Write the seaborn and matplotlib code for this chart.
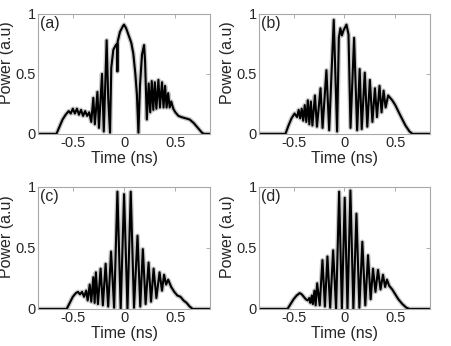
import numpy as np
import pandas as pd
import matplotlib
matplotlib.use("Agg")
import matplotlib.pyplot as plt
import seaborn as sns

# values (time in ns, power in a.u.)
t_a = [-0.84, -0.66, -0.63, -0.60, -0.57, -0.54, -0.52, -0.50, -0.48, -0.46, -0.44, -0.42,
       -0.40, -0.38, -0.36, -0.34, -0.32, -0.30, -0.285, -0.26, -0.245, -0.215, -0.198, -0.17,
       -0.155, -0.137, -0.125, -0.105, -0.08, -0.068, -0.065, -0.062, -0.04, -0.01, 0.0, 0.02,
       0.045, 0.07, 0.09, 0.11, 0.125, 0.14, 0.155, 0.175, 0.195, 0.205, 0.222, 0.24, 0.255,
       0.27, 0.285, 0.30, 0.315, 0.335, 0.35, 0.37, 0.385, 0.40, 0.415, 0.43, 0.445, 0.46,
       0.48, 0.50, 0.53, 0.56, 0.60, 0.64, 0.68, 0.72, 0.76, 0.78, 0.84]
p_a = [0, 0, 0.06, 0.12, 0.16, 0.19, 0.17, 0.21, 0.17, 0.21, 0.16, 0.20,
       0.15, 0.19, 0.15, 0.18, 0.10, 0.30, 0.08, 0.35, 0.05, 0.50, 0.02, 0.78,
       0.30, 0.01, 0.55, 0.70, 0.74, 0.75, 0.52, 0.77, 0.85, 0.90, 0.91, 0.88,
       0.82, 0.76, 0.67, 0.50, 0.33, 0.01, 0.40, 0.66, 0.74, 0.60, 0.12, 0.42, 0.18,
       0.44, 0.20, 0.43, 0.21, 0.45, 0.22, 0.43, 0.22, 0.40, 0.22, 0.34, 0.22, 0.27,
       0.21, 0.18, 0.15, 0.14, 0.13, 0.12, 0.09, 0.05, 0.01, 0, 0]

t_b = [-0.84, -0.58, -0.55, -0.52, -0.49, -0.465, -0.45, -0.435, -0.42, -0.405, -0.39, -0.375,
       -0.36, -0.345, -0.33, -0.315, -0.29, -0.27, -0.235, -0.215, -0.177, -0.15, -0.105, -0.072,
       -0.055, -0.04, -0.025, -0.01, 0.02, 0.04, 0.06, 0.095, 0.125, 0.15, 0.17, 0.20, 0.225,
       0.25, 0.275, 0.30, 0.32, 0.345, 0.365, 0.385, 0.405, 0.43, 0.47, 0.50, 0.54, 0.57,
       0.60, 0.64, 0.67, 0.84]
p_b = [0, 0, 0.07, 0.13, 0.17, 0.14, 0.20, 0.13, 0.21, 0.11, 0.24, 0.10,
       0.28, 0.08, 0.27, 0.07, 0.32, 0.06, 0.38, 0.05, 0.53, 0.03, 0.95, 0.02,
       0.80, 0.88, 0.82, 0.86, 0.91, 0.83, 0.05, 0.80, 0.03, 0.54, 0.04, 0.51, 0.06,
       0.45, 0.10, 0.38, 0.14, 0.40, 0.18, 0.36, 0.22, 0.32, 0.28, 0.24, 0.17, 0.12,
       0.07, 0.02, 0, 0]

t_c = [-0.84, -0.56, -0.53, -0.50, -0.47, -0.45, -0.43, -0.41, -0.39, -0.37, -0.355, -0.335,
       -0.32, -0.30, -0.287, -0.275, -0.255, -0.229, -0.207, -0.18, -0.155, -0.127, -0.097, -0.065,
       -0.033, 0.0, 0.033, 0.065, 0.097, 0.131, 0.158, 0.183, 0.21, 0.239, 0.263, 0.288, 0.315,
       0.346, 0.37, 0.39, 0.41, 0.43, 0.46, 0.49, 0.52, 0.55, 0.58, 0.61, 0.64, 0.67, 0.84]
p_c = [0, 0, 0.05, 0.10, 0.13, 0.14, 0.12, 0.14, 0.10, 0.15, 0.07, 0.20,
       0.06, 0.26, 0.05, 0.30, 0.04, 0.33, 0.03, 0.37, 0.02, 0.47, 0.01, 0.96,
       0.0, 0.94, 0.0, 0.96, 0.01, 0.60, 0.02, 0.49, 0.04, 0.38, 0.06, 0.33, 0.09,
       0.30, 0.15, 0.28, 0.20, 0.24, 0.18, 0.14, 0.11, 0.10, 0.07, 0.05, 0.02, 0.0, 0]

t_d = [-0.84, -0.56, -0.53, -0.50, -0.47, -0.44, -0.42, -0.40, -0.38, -0.36, -0.345, -0.335,
       -0.32, -0.31, -0.295, -0.283, -0.268, -0.243, -0.216, -0.192, -0.167, -0.14, -0.111, -0.082,
       -0.052, -0.025, 0.003, 0.03, 0.059, 0.088, 0.118, 0.147, 0.176, 0.205, 0.232, 0.258, 0.281,
       0.305, 0.33, 0.355, 0.379, 0.40, 0.418, 0.44, 0.47, 0.50, 0.53, 0.57, 0.61, 0.64, 0.84]
p_d = [0, 0, 0.04, 0.08, 0.11, 0.13, 0.12, 0.10, 0.08, 0.07, 0.09, 0.05,
       0.11, 0.04, 0.15, 0.03, 0.21, 0.03, 0.40, 0.02, 0.43, 0.01, 0.48, 0.0,
       0.96, 0.0, 0.91, 0.0, 0.97, 0.0, 0.78, 0.01, 0.55, 0.03, 0.44, 0.08, 0.33,
       0.14, 0.32, 0.16, 0.28, 0.18, 0.24, 0.19, 0.16, 0.12, 0.08, 0.04, 0.01, 0, 0]

panels = [("(a)", t_a, p_a), ("(b)", t_b, p_b), ("(c)", t_c, p_c), ("(d)", t_d, p_d)]

sns.set_theme(style="white")
plt.rcParams["font.family"] = ["Liberation Sans", "DejaVu Sans"]
plt.rcParams["font.size"] = 11

fig = plt.figure(figsize=(4.52, 3.46), dpi=100)
boxes = [(0.084, 0.613, 0.381, 0.347), (0.573, 0.613, 0.378, 0.347),
         (0.084, 0.107, 0.381, 0.353), (0.573, 0.107, 0.378, 0.353)]

for (lab, t, p), box in zip(panels, boxes):
    ax = fig.add_axes(box)
    df = pd.DataFrame({"t": t, "p": p})
    sns.lineplot(data=df, x="t", y="p", ax=ax, color="#c8c8c8", lw=3.4, sort=False)
    sns.lineplot(data=df, x="t", y="p", ax=ax, color="black", lw=1.5, sort=False)
    ax.set_xlim(-0.84, 0.84)
    ax.set_ylim(0, 1)
    ax.set_xticks([-0.5, 0, 0.5])
    ax.set_xticklabels(["-0.5", "0", "0.5"])
    ax.set_yticks([0, 0.5, 1])
    ax.set_yticklabels(["0", "0.5", "1"])
    ax.tick_params(direction="in", length=3, width=0.6, color="#a0a0a0",
                   top=True, right=True, labelsize=10.5, labelcolor="#262626", pad=1.5)
    for s in ax.spines.values():
        s.set_color("#a8a8a8")
        s.set_linewidth(0.8)
    ax.set_xlabel("Time (ns)", fontsize=11.5, color="#262626", labelpad=1)
    ax.set_ylabel("Power (a.u)", fontsize=11.5, color="#262626")
    ax.yaxis.set_label_coords(-0.14, 0.59)
    ax.text(0.01, 0.985, lab, transform=ax.transAxes, ha="left", va="top",
            fontsize=11.5, color="#262626")

fig.savefig("out.png", dpi=100)
